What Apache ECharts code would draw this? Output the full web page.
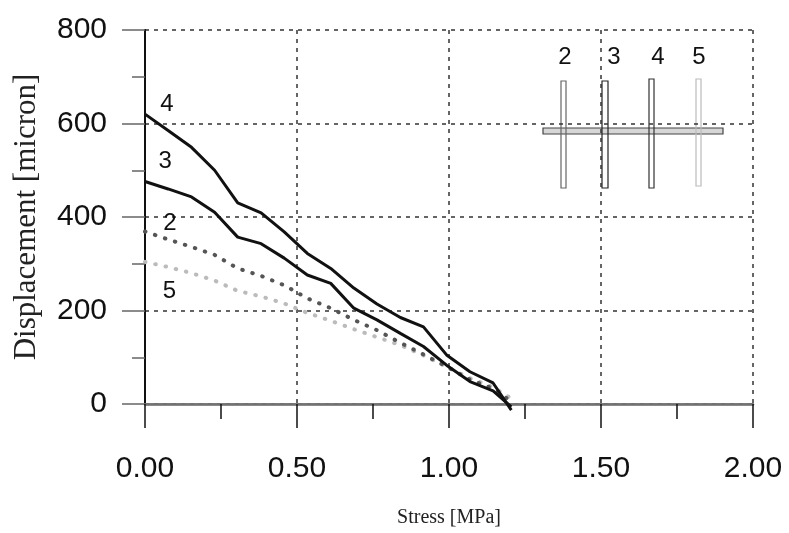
<!DOCTYPE html>
<html>
<head>
<meta charset="utf-8">
<script src="https://cdn.jsdelivr.net/npm/echarts@6/dist/echarts.min.js"></script>
<style>
  html, body { margin: 0; padding: 0; background: #fff; }
  #chart { width: 789px; height: 533px; }
</style>
</head>
<body>
<div id="chart"></div>
<script>
// stress steps [MPa]
const stress = [0, 0.076, 0.153, 0.229, 0.305, 0.382, 0.458, 0.534, 0.611, 0.687, 0.763, 0.84, 0.916, 0.992, 1.069, 1.145, 1.205];

// displacement [micron] per gauge
const disp2 = [369, 352, 336, 319, 290, 274, 254, 226, 205, 180, 158, 131, 106, 80, 52, 33, 5];
const disp3 = [476, 460, 443, 410, 357, 343, 312, 276, 258, 205, 180, 151, 123, 83, 48, 28, -6];
const disp4 = [620, 585, 549, 500, 430, 409, 368, 322, 290, 248, 214, 185, 165, 105, 69, 45, -13];
const disp5 = [304, 293, 280, 264, 242, 230, 215, 195, 178, 160, 143, 126, 104, 80, 55, 36, 12];

// curve label anchors [stress, displacement]
const labelPos = {
  '2': [0.082, 387],
  '3': [0.066, 518],
  '4': [0.072, 640],
  '5': [0.080, 240],
};

const xTicks = [0, 0.5, 1.0, 1.5, 2.0];
const yTicks = [0, 200, 400, 600, 800];

function pairs(values) {
  return stress.map((s, i) => [s, values[i]]);
}

function curveLabel(name) {
  return {
    silent: true,
    symbol: 'circle',
    symbolSize: 2,
    itemStyle: { color: 'transparent' },
    label: {
      show: true,
      position: 'inside',
      formatter: name,
      color: '#111',
      fontFamily: 'Liberation Sans, Arial, sans-serif',
      fontSize: 24,
    },
    data: [{ coord: labelPos[name] }],
  };
}

const chart = echarts.init(document.getElementById('chart'));

const gridDash = { color: '#333', width: 1.5, type: [4, 5] };

// inset sketch: horizontal beam with four gauges
const inset = [
  { type: 'rect', shape: { x: 543, y: 128, width: 180, height: 6 }, style: { fill: '#d6d6d6', stroke: '#444', lineWidth: 1.2 } },
  { type: 'rect', shape: { x: 561, y: 81, width: 5, height: 107 }, style: { fill: 'transparent', stroke: '#666', lineWidth: 1.2 } },
  { type: 'rect', shape: { x: 602, y: 81, width: 6, height: 107 }, style: { fill: 'transparent', stroke: '#222', lineWidth: 1.2 } },
  { type: 'rect', shape: { x: 649, y: 79, width: 5, height: 109 }, style: { fill: 'transparent', stroke: '#333', lineWidth: 1.2 } },
  { type: 'rect', shape: { x: 696, y: 79, width: 5, height: 107 }, style: { fill: 'transparent', stroke: '#bbb', lineWidth: 1.2 } },
].concat([['2', 565], ['3', 614], ['4', 658], ['5', 699]].map(([t, x]) => ({
  type: 'text',
  x: x,
  y: 57,
  style: {
    text: t,
    fill: '#111',
    font: '24px "Liberation Sans", Arial, sans-serif',
    align: 'center',
    verticalAlign: 'middle',
  },
})));

chart.setOption({
  animation: false,
  backgroundColor: '#fff',
  grid: { left: 145, right: 36, top: 30, bottom: 129 },
  xAxis: [
    {
      type: 'value',
      min: xTicks[0],
      max: xTicks[xTicks.length - 1],
      interval: 0.5,
      name: 'Stress [MPa]',
      nameLocation: 'middle',
      nameGap: 104,
      nameTextStyle: { fontFamily: 'Liberation Serif, Times New Roman, serif', fontSize: 20, color: '#222' },
      axisLine: { show: true, onZero: false, lineStyle: { color: '#666', width: 2.5 } },
      axisTick: { show: true, length: 24, lineStyle: { color: '#111', width: 1.5 } },
      minorTick: { show: true, splitNumber: 2, length: 15, lineStyle: { color: '#111', width: 1.5 } },
      axisLabel: {
        margin: 50,
        fontFamily: 'Liberation Sans, Arial, sans-serif',
        fontSize: 30,
        color: '#111',
        formatter: (v) => v.toFixed(2),
      },
      splitLine: { show: true, lineStyle: gridDash },
    },
    {
      type: 'value',
      position: 'top',
      min: 0,
      max: 2,
      axisLine: { show: true, lineStyle: { color: '#777', width: 1.5 } },
      axisTick: { show: false },
      axisLabel: { show: false },
      splitLine: { show: false },
    },
  ],
  yAxis: [
    {
      type: 'value',
      min: yTicks[0],
      max: yTicks[yTicks.length - 1],
      interval: 200,
      name: 'Displacement [micron]',
      nameLocation: 'middle',
      nameGap: 103,
      nameTextStyle: { fontFamily: 'Liberation Serif, Times New Roman, serif', fontSize: 31, color: '#222' },
      axisLine: { show: true, onZero: false, lineStyle: { color: '#111', width: 2 } },
      axisTick: { show: true, length: 23, lineStyle: { color: '#666', width: 1.5 } },
      minorTick: { show: true, splitNumber: 2, length: 13, lineStyle: { color: '#666', width: 1.5 } },
      axisLabel: {
        margin: 38,
        fontFamily: 'Liberation Sans, Arial, sans-serif',
        fontSize: 30,
        color: '#111',
      },
      splitLine: { show: true, lineStyle: gridDash },
    },
    {
      type: 'value',
      position: 'right',
      min: 0,
      max: 800,
      axisLine: { show: true, lineStyle: { color: '#111', width: 1.5 } },
      axisTick: { show: false },
      axisLabel: { show: false },
      splitLine: { show: false },
    },
  ],
  series: [
    {
      name: '5',
      type: 'line',
      data: pairs(disp5),
      showSymbol: false,
      clip: false,
      lineStyle: { color: '#bbb', width: 4, type: [0.5, 10], cap: 'round' },
      markPoint: curveLabel('5'),
    },
    {
      name: '2',
      type: 'line',
      data: pairs(disp2),
      showSymbol: false,
      clip: false,
      lineStyle: { color: '#555', width: 4, type: [0.5, 10], cap: 'round' },
      markPoint: curveLabel('2'),
    },
    {
      name: '3',
      type: 'line',
      data: pairs(disp3),
      showSymbol: false,
      clip: false,
      lineStyle: { color: '#111', width: 3 },
      markPoint: curveLabel('3'),
    },
    {
      name: '4',
      type: 'line',
      data: pairs(disp4),
      showSymbol: false,
      clip: false,
      lineStyle: { color: '#111', width: 3 },
      markPoint: curveLabel('4'),
    },
  ],
  graphic: inset,
});

window.addEventListener('resize', () => chart.resize());
</script>
</body>
</html>
